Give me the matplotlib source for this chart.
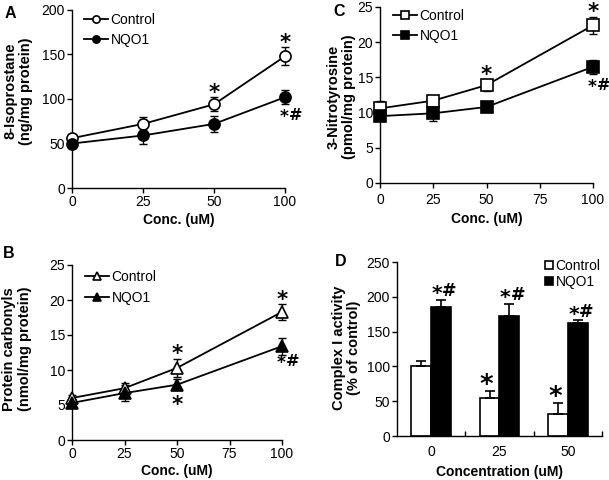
import matplotlib
matplotlib.use("Agg")
import matplotlib.pyplot as plt
from matplotlib.textpath import TextPath
from matplotlib.font_manager import FontProperties
import numpy as np

plt.rcParams['font.family'] = ['Liberation Sans', 'DejaVu Sans']

# Panel A: 8-Isoprostane
a_conc = ["0", "25", "50", "100"]
a_ctrl = [56, 72, 94, 148]
a_ctrl_err = [5, 8, 8, 10]
a_nqo1 = [50, 59, 72, 102]
a_nqo1_err = [5, 9, 9, 8]
a_ctrl_marks = ["", "", "*", "*"]
a_nqo1_marks = ["", "", "", "*#"]

# Panel B: Protein carbonyls
b_conc = [0, 25, 50, 100]
b_ctrl = [6.0, 7.4, 10.3, 18.3]
b_ctrl_err = [0.5, 0.8, 1.3, 1.1]
b_nqo1 = [5.3, 6.7, 7.9, 13.4]
b_nqo1_err = [0.5, 1.1, 0.8, 1.2]
b_ctrl_marks = ["", "", "*", "*"]
b_nqo1_marks = ["", "", "*", "*#"]

# Panel C: 3-Nitrotyrosine
c_conc = [0, 25, 50, 100]
c_ctrl = [10.6, 11.7, 13.9, 22.4]
c_ctrl_err = [1.0, 0.7, 0.8, 1.2]
c_nqo1 = [9.5, 9.9, 10.8, 16.5]
c_nqo1_err = [0.6, 1.1, 0.4, 1.0]
c_ctrl_marks = ["", "", "*", "*"]
c_nqo1_marks = ["", "", "", "*#"]

# Panel D: Complex I activity
d_conc = ["0", "25", "50"]
d_ctrl = [101, 55, 32]
d_ctrl_err = [7, 10, 16]
d_nqo1 = [186, 173, 162]
d_nqo1_err = [10, 17, 4]
d_ctrl_marks = ["", "*", "*"]
d_nqo1_marks = ["*#", "*#", "*#"]

W, H = 609, 480
DPI = 100
PT2PX = DPI / 72.0
fig = plt.figure(figsize=(W / DPI, H / DPI), dpi=DPI)

TICK_FS = 10
XLAB_FS = 10
YLAB_FS = 10.5
LEG_FS = 10
MARK_FAMILY = "DejaVu Sans"
MARK_WEIGHT = "bold"


def add_ax(l, r, t, b):
    return fig.add_axes([l / W, 1 - b / H, (r - l) / W, (b - t) / H])


def glyph_box(text, size):
    tp = TextPath((0, 0), text, size=size,
                  prop=FontProperties(family=MARK_FAMILY, weight=MARK_WEIGHT))
    return tp.get_extents()


def put(ax, x, y, text, ink_h_px, cx_px, cy_px):
    """Place text so its ink box (ink_h_px tall) is centred at an offset
    (cx_px, cy_px) in pixels from data point (x, y)."""
    e1 = glyph_box(text, 10.0)
    size = 10.0 * ink_h_px / ((e1.y1 - e1.y0) * PT2PX)
    e = glyph_box(text, size)
    icx = (e.x0 + e.x1) / 2 * PT2PX
    icy = (e.y0 + e.y1) / 2 * PT2PX
    ax.annotate(text, xy=(x, y), xytext=(cx_px - icx, cy_px - icy),
                textcoords="offset pixels", ha="left", va="baseline",
                fontsize=size, family=MARK_FAMILY, fontweight=MARK_WEIGHT,
                annotation_clip=False)


def star(ax, x, y, dy, h=10, dx=0):
    put(ax, x, y, "*", h, dx, dy)


def star_hash(ax, x, y, dx, dy, sh=8, hh=11.5):
    # dx, dy: centre of the combined "*#" ink
    half = (sh + 1.5 + hh) / 2
    put(ax, x, y, "*", sh, dx - half + sh / 2, dy + hh / 2 - sh / 2 - 0.5)
    put(ax, x, y, "#", hh, dx + half - hh / 2, dy)


def style(ax):
    for s in ("top", "right"):
        ax.spines[s].set_visible(False)
    for s in ("left", "bottom"):
        ax.spines[s].set_linewidth(1)
    ax.tick_params(direction="out", length=3.5, width=1, labelsize=TICK_FS,
                   pad=1.5)


def set_labels(ax, xlabel, ylabel, box, xl_below, yl_center):
    l, r, t, b = box
    ax.set_xlabel(xlabel, fontsize=XLAB_FS, fontweight="bold")
    ax.set_ylabel(ylabel, fontsize=YLAB_FS, fontweight="bold", linespacing=1.1)
    ax.xaxis.label.set(va="center", ha="center")
    ax.xaxis.set_label_coords(0.5, -xl_below / (b - t))
    ax.yaxis.label.set(va="center", ha="center", rotation_mode="anchor")
    ax.yaxis.set_label_coords((yl_center[0] - l) / (r - l),
                              (b - yl_center[1]) / (b - t))


def letter(ch, x, y):
    fig.text(x / W, 1 - y / H, ch, fontsize=11.5, fontweight="bold",
             ha="center", va="center")


def legend_at(ax, px, py, **kw):
    return ax.legend(loc="upper left", bbox_to_anchor=(px / W, 1 - py / H),
                     bbox_transform=fig.transFigure, frameon=False,
                     fontsize=LEG_FS, borderpad=0, borderaxespad=0, **kw)


def line_panel(box, x, ctrl, ce, nq, ne, marker, cmarks, nmarks, ylim, yticks,
               ylabel, xticks, xticklabels, xlim, leg_xy, leg_space,
               xl_below, yl_center, tick_pad, sh_dy, sh_below_gap):
    ax = add_ax(*box)
    for yv, ev, z in ((ctrl, ce, 2), (nq, ne, 2.5)):
        ax.errorbar(x, yv, yerr=ev, fmt="none", ecolor="black", capsize=3,
                    capthick=1, elinewidth=1, clip_on=False, zorder=z)
    ax.plot(x, ctrl, color="black", marker=marker, mfc="white", mec="black",
            ms=8, mew=1.2, lw=1.3, label="Control", clip_on=False, zorder=3)
    ax.plot(x, nq, color="black", marker=marker, mfc="black", mec="black",
            ms=8, mew=1.2, lw=1.3, label="NQO1", clip_on=False, zorder=4)
    ax.set_xlim(*xlim)
    ax.set_ylim(*ylim)
    ax.set_yticks(yticks)
    ax.set_xticks(xticks)
    ax.set_xticklabels(xticklabels)
    style(ax)
    ax.tick_params(axis="x", pad=tick_pad)
    set_labels(ax, "Conc. (uM)", ylabel, box, xl_below, yl_center)
    l, r, t, b = box
    ppu = (b - t) / (ylim[1] - ylim[0])
    for xi, yi, ei, m in zip(x, ctrl, ce, cmarks):
        if m:
            star(ax, xi, yi, ei * ppu + 9.5)
    for xi, yi, ei, m in zip(x, nq, ne, nmarks):
        if m == "*#":
            star_hash(ax, xi, yi, 6, sh_dy)
        elif m:
            star(ax, xi, yi, -(ei * ppu + sh_below_gap))
    legend_at(ax, *leg_xy, handlelength=1.75, handletextpad=0.15,
              labelspacing=leg_space, markerscale=0.65)
    return ax


# Panel A
boxA = (72, 285, 10, 188)
axA = line_panel(boxA, np.arange(len(a_conc)), a_ctrl, a_ctrl_err, a_nqo1,
                 a_nqo1_err, "o", a_ctrl_marks, a_nqo1_marks, (0, 200),
                 [0, 50, 100, 150, 200], "8-Isoprostane\n(ng/mg protein)",
                 np.arange(len(a_conc)), a_conc, (0, 3), (84, 13), 0.43,
                 32, (18.5, 91), 1.5, -17.5, 10)
letter("A", 10, 13)

# Panel C
boxC = (380, 593, 7, 183)
axC = line_panel(boxC, c_conc, c_ctrl, c_ctrl_err, c_nqo1, c_nqo1_err, "s",
                 c_ctrl_marks, c_nqo1_marks, (0, 25), [0, 5, 10, 15, 20, 25],
                 "3-Nitrotyrosine\n(pmol/mg protein)", [0, 25, 50, 75, 100],
                 ["0", "25", "50", "75", "100"], (0, 100), (393, 9), 0.43,
                 36, (341, 97), 3.5, -17.5, 10)
letter("C", 339, 12)

# Panel B
boxB = (72, 282, 265, 440)
axB = line_panel(boxB, b_conc, b_ctrl, b_ctrl_err, b_nqo1, b_nqo1_err, "^",
                 b_ctrl_marks, b_nqo1_marks, (0, 25), [0, 5, 10, 15, 20, 25],
                 "Protein carbonyls\n(nmol/mg protein)", [0, 25, 50, 75, 100],
                 ["0", "25", "50", "75", "100"], (0, 100), (85, 270), 0.5,
                 31, (17, 349), 1.5, -14, 10)
letter("B", 9, 253)

# Panel D
boxD = (397, 602, 262, 436)
axD = add_ax(*boxD)
xd = np.arange(len(d_conc))
bw = 0.29
axD.bar(xd - bw / 2, d_ctrl, bw, color="white", edgecolor="black", lw=1.2,
        label="Control", zorder=2)
axD.bar(xd + bw / 2, d_nqo1, bw, color="black", edgecolor="black", lw=1.2,
        label="NQO1", zorder=2)
axD.errorbar(xd - bw / 2, d_ctrl, yerr=[np.zeros(len(xd)), d_ctrl_err],
             fmt="none", ecolor="black", elinewidth=1.2, capsize=3.5,
             capthick=1.2, zorder=3)
axD.errorbar(xd + bw / 2, d_nqo1, yerr=[np.zeros(len(xd)), d_nqo1_err],
             fmt="none", ecolor="black", elinewidth=1.2, capsize=3.5,
             capthick=1.2, zorder=3)
axD.set_xlim(-0.5, 2.5)
axD.set_ylim(0, 250)
axD.set_yticks([0, 50, 100, 150, 200, 250])
style(axD)
ppuD = (boxD[3] - boxD[2]) / 250
for xi, yi, ei, m in zip(xd - bw / 2, d_ctrl, d_ctrl_err, d_ctrl_marks):
    if m:
        star(axD, xi, yi, ei * ppuD + 11, h=12, dx=-3)
for xi, yi, ei, m in zip(xd + bw / 2, d_nqo1, d_nqo1_err, d_nqo1_marks):
    if m:
        star_hash(axD, xi, yi, 3, ei * ppuD + 10, sh=9.5, hh=12.5)
axD.set_xticks(xd)
axD.set_xticklabels(d_conc)
axD.tick_params(axis="x", which="major", length=0, pad=6.5)
axD.set_xticks([0.5, 1.5, 2.5], minor=True)
axD.tick_params(axis="x", which="minor", direction="in", length=3.5, width=1)
set_labels(axD, "Concentration (uM)", "Complex I activity\n(% of control)",
           boxD, 36, (346.5, 348))
legend_at(axD, 545, 259, handlelength=0.55, handleheight=0.55,
          handletextpad=0.2, labelspacing=0.15)
letter("D", 341, 262)

fig.savefig("out.png", dpi=DPI)
